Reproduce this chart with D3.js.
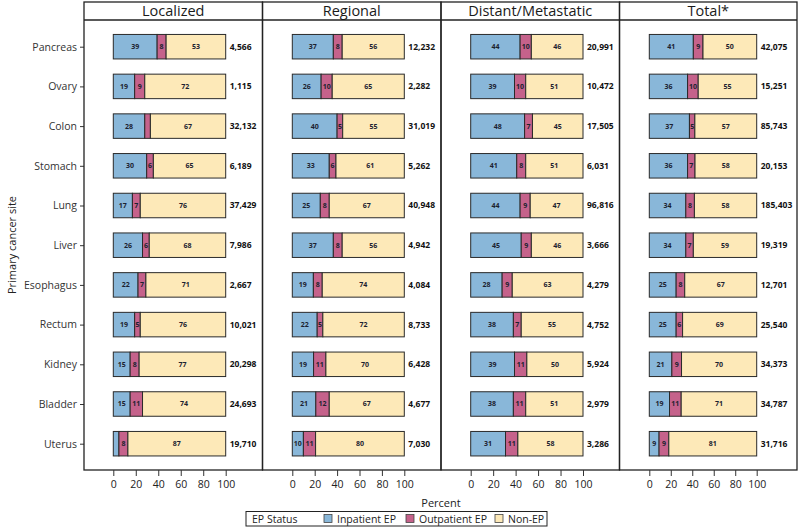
<!DOCTYPE html>
<html><head><meta charset="utf-8">
<script src="https://cdn.jsdelivr.net/npm/d3@7"></script>
<style>body{margin:0;background:#fff}svg{display:block}</style>
</head><body>
<svg id="c" width="800" height="528"></svg>
<script>
const sites = ["Pancreas","Ovary","Colon","Stomach","Lung","Liver","Esophagus","Rectum","Kidney","Bladder","Uterus"];
const stages = ["Localized","Regional","Distant/Metastatic","Total*"];
const statuses = ["Inpatient EP","Outpatient EP","Non-EP"];
const xTicks = [0,20,40,60,80,100];

const localizedInpatient  = [39,19,28,30,17,26,22,19,15,15,5];
const localizedOutpatient = [8,9,5,6,7,6,7,5,8,11,8];
const localizedNonEP      = [53,72,67,65,76,68,71,76,77,74,87];
const localizedN          = ["4,566","1,115","32,132","6,189","37,429","7,986","2,667","10,021","20,298","24,693","19,710"];

const regionalInpatient  = [37,26,40,33,25,37,19,22,19,21,10];
const regionalOutpatient = [8,10,5,6,8,8,8,5,11,12,11];
const regionalNonEP      = [56,65,55,61,67,56,74,72,70,67,80];
const regionalN          = ["12,232","2,282","31,019","5,262","40,948","4,942","4,084","8,733","6,428","4,677","7,030"];

const distantInpatient  = [44,39,48,41,44,45,28,38,39,38,31];
const distantOutpatient = [10,10,7,8,9,9,9,7,11,11,11];
const distantNonEP      = [46,51,45,51,47,46,63,55,50,51,58];
const distantN          = ["20,991","10,472","17,505","6,031","96,816","3,666","4,279","4,752","5,924","2,979","3,286"];

const totalInpatient  = [41,36,37,36,34,34,25,25,21,19,9];
const totalOutpatient = [9,10,5,7,8,7,8,6,9,11,9];
const totalNonEP      = [50,55,57,58,58,59,67,69,70,71,81];
const totalN          = ["42,075","15,251","85,743","20,153","185,403","19,319","12,701","25,540","34,373","34,787","31,716"];

// segments whose value label is not printed in the reference: [stage, site, status]
const hiddenLabels = [["Localized","Colon","Outpatient EP"],["Localized","Uterus","Inpatient EP"]];

const stageData = [
  [localizedInpatient, localizedOutpatient, localizedNonEP, localizedN],
  [regionalInpatient, regionalOutpatient, regionalNonEP, regionalN],
  [distantInpatient, distantOutpatient, distantNonEP, distantN],
  [totalInpatient, totalOutpatient, totalNonEP, totalN]
];

const colors = ["#89b7d9","#c5628b","#fde9b8"];
const color = d3.scaleOrdinal().domain(statuses).range(colors);
const FONT = "'Open Sans', 'DejaVu Sans', sans-serif";

const svg = d3.select("#c");
const panelX = [84, 262.5, 441, 619.5, 797];
const plotTop = 2, headerBottom = 20, plotBottom = 470;
const xRanges = [[113.3,225.7],[292.3,404.3],[470.7,583],[649.3,756.7]];

const y = d3.scalePoint().domain(sites).range([46.7, 443.7]);
const barH = 24.5;

// y axis
const yAxis = svg.append("g").attr("transform", `translate(${panelX[0]},0)`)
  .call(d3.axisLeft(y).tickSize(4).tickPadding(3));
yAxis.select(".domain").remove();
yAxis.selectAll("line").attr("stroke","#333");
yAxis.selectAll("text").attr("font-family",FONT).attr("font-size",10.5).attr("fill","#333");

svg.append("text").attr("transform","translate(12,245) rotate(-90)")
  .attr("text-anchor","middle").attr("dy","0.35em")
  .attr("font-family",FONT).attr("font-size",11).attr("fill","#222").text("Primary cancer site");

stages.forEach((stage, si) => {
  const x0 = panelX[si], x1 = panelX[si+1];
  const g = svg.append("g");
  const x = d3.scaleLinear().domain([0,100]).range(xRanges[si]);
  const [inp, outp, non, ns] = stageData[si];

  sites.forEach((site, i) => {
    const vals = [inp[i], outp[i], non[i]];
    const sum = d3.sum(vals);
    let cum = 0;
    vals.forEach((v, k) => {
      const a = cum / sum * 100, b = (cum + v) / sum * 100;
      cum += v;
      const xa = x(a), xb = x(b);
      g.append("rect").attr("x", xa).attr("y", y(site) - barH/2)
        .attr("width", xb - xa).attr("height", barH)
        .attr("fill", color(statuses[k])).attr("stroke", "#2a2a2a").attr("stroke-width", 1);
      const hidden = hiddenLabels.some(h => h[0]===stage && h[1]===site && h[2]===statuses[k]);
      if (!hidden) {
        g.append("text").attr("x", (xa+xb)/2).attr("y", y(site)).attr("dy","0.35em")
          .attr("text-anchor","middle").attr("font-family",FONT).attr("font-weight","bold")
          .attr("font-size",7).attr("fill","#1c2230").text(v);
      }
    });
    g.append("text").attr("x", x(100) + 4).attr("y", y(site)).attr("dy","0.35em")
      .attr("font-family",FONT).attr("font-weight","bold").attr("font-size",8.5)
      .attr("fill","#111").text(ns[i]);
  });

  // frame + header
  g.append("rect").attr("x", x0).attr("y", plotTop).attr("width", x1 - x0).attr("height", plotBottom - plotTop)
    .attr("fill","none").attr("stroke","#222").attr("stroke-width",1.3);
  g.append("line").attr("x1", x0).attr("x2", x1).attr("y1", headerBottom).attr("y2", headerBottom)
    .attr("stroke","#222").attr("stroke-width",1.6);
  g.append("text").attr("x",(x0+x1)/2).attr("y",11.3).attr("dy","0.35em").attr("text-anchor","middle")
    .attr("font-family",FONT).attr("font-size",14.5).attr("font-weight",400).attr("fill","#1a1a1a").text(stage);

  const ax = svg.append("g").attr("transform",`translate(0,${plotBottom})`)
    .call(d3.axisBottom(x).tickValues(xTicks).tickSize(6).tickPadding(5));
  ax.select(".domain").remove();
  ax.selectAll("line").attr("stroke","#333");
  ax.selectAll("text").attr("font-family",FONT).attr("font-size",10.5).attr("fill","#222");
});

svg.append("text").attr("x",441).attr("y",503).attr("dy","0.35em").attr("text-anchor","middle")
  .attr("font-family",FONT).attr("font-size",11).attr("fill","#222").text("Percent");

// legend
const lg = svg.append("g");
lg.append("rect").attr("x",246).attr("y",511.5).attr("width",301).attr("height",14.5)
  .attr("fill","#fff").attr("stroke","#222").attr("stroke-width",1);
lg.append("text").attr("x",252).attr("y",519).attr("dy","0.35em").attr("font-family",FONT)
  .attr("font-size",10.5).attr("fill","#222").text("EP Status");
const legX = [324, 406, 495];
statuses.forEach((s, k) => {
  lg.append("rect").attr("x",legX[k]).attr("y",514.5).attr("width",8).attr("height",8)
    .attr("fill",color(s)).attr("stroke","#444").attr("stroke-width",0.8);
  lg.append("text").attr("x",legX[k]+13).attr("y",519).attr("dy","0.35em").attr("font-family",FONT)
    .attr("font-size",10.5).attr("fill","#222").text(s);
});
</script>
</body></html>
